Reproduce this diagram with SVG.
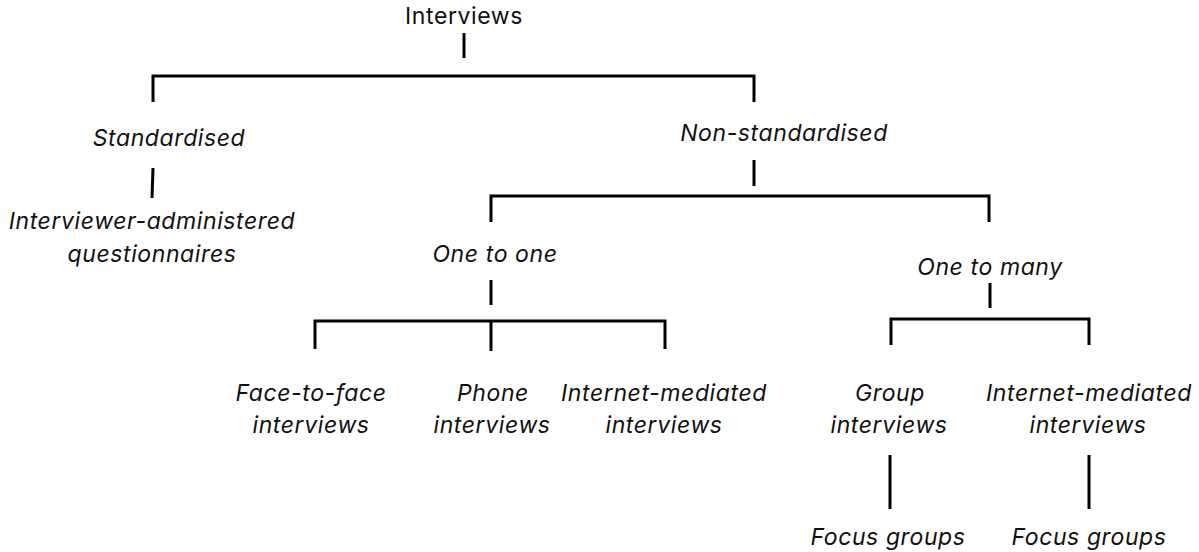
<svg xmlns="http://www.w3.org/2000/svg" width="1199" height="552" viewBox="0 0 1199 552">
  <style>
    .lbl { font-family: Inter, "Noto Sans", "Liberation Sans", sans-serif; font-size: 23px; letter-spacing: 0.6px; fill: #111; text-anchor: middle; font-style: italic; }
    .root { font-style: normal; }
    .wire { stroke: #000; stroke-width: 3; fill: none; stroke-linecap: butt; stroke-linejoin: miter; }
  </style>
  <rect width="1199" height="552" fill="#fff"/>

  <g id="connectors">
    <!-- root -->
    <path class="wire" d="M464 33 V58"/>
    <path class="wire" d="M153 102 V76 H754 V102"/>
    <!-- standardised branch -->
    <path class="wire" d="M153 168 L152 198"/>
    <!-- non-standardised branch -->
    <path class="wire" d="M754 160 V186"/>
    <path class="wire" d="M491 222 V196 H989 V222"/>
    <!-- one to one -->
    <path class="wire" d="M491 280 V305"/>
    <path class="wire" d="M315 349 V321 H665 V349"/>
    <path class="wire" d="M491 321 V351"/>
    <!-- one to many -->
    <path class="wire" d="M990 283 V308"/>
    <path class="wire" d="M891 345 V319 H1089 V345"/>
    <!-- focus groups -->
    <path class="wire" d="M890 455 V509"/>
    <path class="wire" d="M1089 455 V509"/>
  </g>

  <g id="interviews"><text class="lbl root" x="464" y="24">Interviews</text></g>
  <g id="standardised"><text class="lbl" x="169" y="146">Standardised</text></g>
  <g id="non-standardised"><text class="lbl" x="784" y="141">Non-standardised</text></g>
  <g id="questionnaires">
    <text class="lbl" x="152" y="229">Interviewer-administered</text>
    <text class="lbl" x="152" y="262">questionnaires</text>
  </g>
  <g id="one-to-one"><text class="lbl" x="495" y="262">One to one</text></g>
  <g id="one-to-many"><text class="lbl" x="990" y="275">One to many</text></g>
  <g id="face-to-face">
    <text class="lbl" x="311" y="401">Face-to-face</text>
    <text class="lbl" x="311" y="433">interviews</text>
  </g>
  <g id="phone">
    <text class="lbl" x="493" y="401">Phone</text>
    <text class="lbl" x="492" y="433">interviews</text>
  </g>
  <g id="internet-one">
    <text class="lbl" x="664" y="401">Internet-mediated</text>
    <text class="lbl" x="664" y="433">interviews</text>
  </g>
  <g id="group">
    <text class="lbl" x="890" y="401">Group</text>
    <text class="lbl" x="889" y="433">interviews</text>
  </g>
  <g id="internet-many">
    <text class="lbl" x="1089" y="401">Internet-mediated</text>
    <text class="lbl" x="1088" y="433">interviews</text>
  </g>
  <g id="focus-groups-1"><text class="lbl" x="888" y="545">Focus groups</text></g>
  <g id="focus-groups-2"><text class="lbl" x="1089" y="545">Focus groups</text></g>
</svg>
